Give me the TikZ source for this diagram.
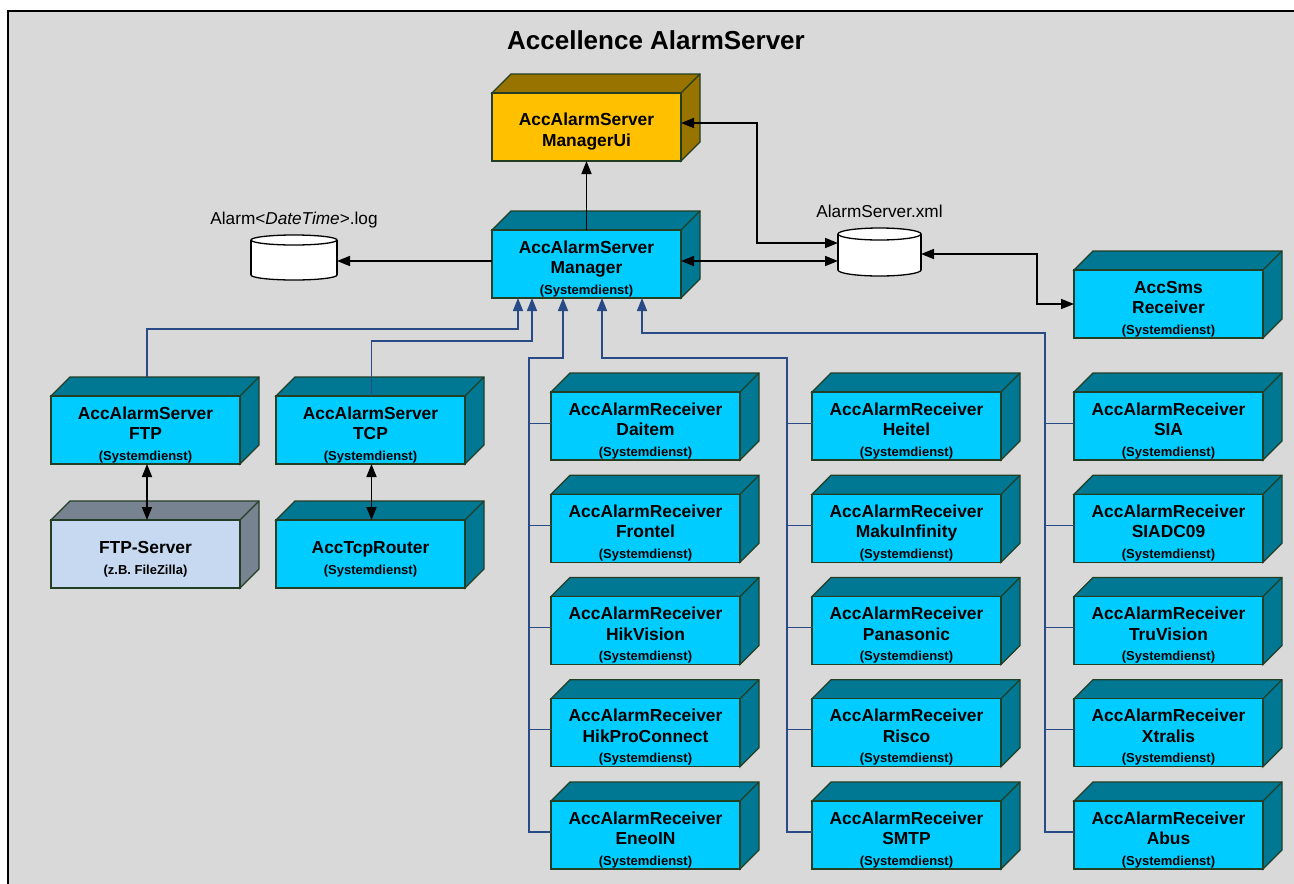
\documentclass[tikz,border=0pt]{standalone}
\usepackage{fontspec}
\setmainfont{Liberation Sans}
\usetikzlibrary{arrows.meta,calc}
\definecolor{bgframe}{RGB}{217,217,217}
\definecolor{cyanfront}{RGB}{0,204,255}
\definecolor{cyandark}{RGB}{0,120,148}
\definecolor{goldfront}{RGB}{255,192,0}
\definecolor{golddark}{RGB}{153,115,0}
\definecolor{srvfront}{RGB}{198,217,240}
\definecolor{srvdark}{RGB}{120,131,145}
\definecolor{edgegreen}{RGB}{34,62,36}
\definecolor{busblue}{RGB}{40,75,135}
\tikzset{
  boxedge/.style={draw=edgegreen,line width=1.3pt,line join=miter},
  frontbox/.style={draw=edgegreen,line width=1.3pt,minimum width=189pt,minimum height=68pt,inner sep=0pt,outer sep=0pt},
  nm/.style={font=\fontsize{17.4}{20}\selectfont\bfseries,anchor=base,inner sep=0pt},
  subt/.style={font=\fontsize{13}{15}\selectfont\bfseries,anchor=base,inner sep=0pt},
  lbl/.style={font=\fontsize{17.2}{20}\selectfont,anchor=base,inner sep=0pt},
  blk/.style={line width=1.6pt,draw=black,-{Triangle[length=13pt,width=10pt]}},
  blkboth/.style={line width=1.6pt,draw=black,{Triangle[length=13pt,width=10pt]}-{Triangle[length=13pt,width=10pt]}},
  bus/.style={line width=1.6pt,draw=busblue,-{Triangle[length=13pt,width=10pt]}},
  tick/.style={line width=1pt,draw=busblue},
  dbbox/.style={inner sep=0pt,outer sep=0pt},
}
% #1 name, #2 x, #3 y (front top-left, pixels), #4 front fill, #5 dark fill
\newcommand\cubeshape[5]{%
  \filldraw[boxedge,fill=#5] (#2,#3) -- ++(19,-19) -- ++(189,0) -- ++(0,68) -- ++(-19,19) -- ++(0,-68) -- cycle;
  \draw[boxedge] (#2+189,#3) -- ++(19,-19);
  \node[frontbox,fill=#4,anchor=north west] (#1) at (#2,#3) {};
}
% three-line text: name, line1, line2, sub
\newcommand\threelines[4]{%
  \node[nm] (#1-a) at ([yshift=-23pt]#1.north) {#2};
  \node[nm] (#1-b) at ([yshift=-43.5pt]#1.north) {#3};
  \node[subt] (#1-c) at ([yshift=-64pt]#1.north) {#4};
}
% receiver box: name, x, y, second line
\newcommand\receiver[4]{%
  \cubeshape{#1}{#2}{#3}{cyanfront}{cyandark}
  \threelines{#1}{AccAlarmReceiver}{#4}{(Systemdienst)}
}
% cylinder: name, cx, cy, half width, half height, ellipse ry
\newcommand\dbcyl[6]{%
  \node[dbbox,minimum width=2*#4 pt,minimum height=2*#5 pt] (#1) at (#2,#3) {};
  \filldraw[line width=1.3pt,draw=black,fill=white] (#2,#3+#5-#6) ellipse[x radius=#4,y radius=#6];
  \fill[white] (#2-#4,#3-#5+#6) rectangle (#2+#4,#3+#5-#6);
  \draw[line width=1.3pt,black] (#2-#4,#3-#5+#6) -- (#2-#4,#3+#5-#6);
  \draw[line width=1.3pt,black] (#2+#4,#3-#5+#6) -- (#2+#4,#3+#5-#6);
  \filldraw[line width=1.3pt,draw=black,fill=white] (#2,#3-#5+#6) ellipse[x radius=#4,y radius=#6];
}
\begin{document}
\begin{tikzpicture}[x=1pt,y=-1pt]
\useasboundingbox (0,0) rectangle (1294,884);
\clip (0,0) rectangle (1294,884);
\fill[white] (0,0) rectangle (1294,884);
\filldraw[fill=bgframe,draw=black,line width=2pt] (8,11) rectangle (1310,900);

\node[font=\fontsize{26}{30}\selectfont\bfseries,anchor=base,inner sep=0pt] (title) at (656,49) {Accellence AlarmServer};

% Manager UI
\cubeshape{ui}{492}{93}{goldfront}{golddark}
\node[nm] (ui-a) at ([yshift=-32pt]ui.north) {AccAlarmServer};
\node[nm] (ui-b) at ([yshift=-53pt]ui.north) {ManagerUi};

% Manager
\cubeshape{mgr}{492}{230}{cyanfront}{cyandark}
\threelines{mgr}{AccAlarmServer}{Manager}{(Systemdienst)}

% SMS receiver
\cubeshape{sms}{1074}{270}{cyanfront}{cyandark}
\threelines{sms}{AccSms}{Receiver}{(Systemdienst)}

% FTP / TCP
\cubeshape{ftp}{51}{396}{cyanfront}{cyandark}
\threelines{ftp}{AccAlarmServer}{FTP}{(Systemdienst)}
\cubeshape{tcp}{276}{396}{cyanfront}{cyandark}
\threelines{tcp}{AccAlarmServer}{TCP}{(Systemdienst)}

\cubeshape{ftpsrv}{51}{520}{srvfront}{srvdark}
\node[nm] (ftpsrv-a) at ([yshift=-33pt]ftpsrv.north) {FTP-Server};
\node[subt] (ftpsrv-b) at ([yshift=-54.5pt]ftpsrv.north) {(z.B. FileZilla)};
\cubeshape{router}{276}{520}{cyanfront}{cyandark}
\node[nm] (router-a) at ([yshift=-33pt]router.north) {AccTcpRouter};
\node[subt] (router-b) at ([yshift=-54.5pt]router.north) {(Systemdienst)};

% Receivers
\receiver{ca}{551}{392}{Daitem}
\receiver{cb}{551}{494.25}{Frontel}
\receiver{cc}{551}{596.5}{HikVision}
\receiver{cd}{551}{698.75}{HikProConnect}
\receiver{ce}{551}{801}{EneoIN}
\receiver{da}{812}{392}{Heitel}
\receiver{db}{812}{494.25}{MakuInfinity}
\receiver{dc}{812}{596.5}{Panasonic}
\receiver{dd}{812}{698.75}{Risco}
\receiver{de}{812}{801}{SMTP}
\receiver{ea}{1074}{392}{SIA}
\receiver{eb}{1074}{494.25}{SIADC09}
\receiver{ec}{1074}{596.5}{TruVision}
\receiver{ed}{1074}{698.75}{Xtralis}
\receiver{ee}{1074}{801}{Abus}

% Databases
\dbcyl{log}{294}{257.5}{43}{22.5}{5}
\node[lbl] (logl) at ([yshift=11pt]log.north) {Alarm<\textit{DateTime}>.log};
\dbcyl{xml}{879.5}{252}{41.5}{24}{6}
\node[lbl] (xmll) at ([yshift=11pt]xml.north) {AlarmServer.xml};

% Black connectors
\draw[blk] (mgr.north) -- (ui.south);
\draw[blk] ([yshift=3pt]mgr.west) -- ([yshift=3pt]mgr.west -| log.east);
\draw[blkboth] ([yshift=3pt]mgr.east) -- ([yshift=3pt]mgr.east -| xml.west);
\draw[blkboth] ([yshift=4pt]ui.east) -- ++(76,0) |- ([yshift=9pt]xml.west);
\draw[blkboth] ([yshift=-2pt]xml.east) -- ++(116,0) |- (sms.west);
\draw[blkboth] ([xshift=1.5pt]ftp.south) -- ([xshift=1.5pt]ftpsrv.north);
\draw[blkboth] ([xshift=1pt]tcp.south) -- ([xshift=1pt]router.north);

% Blue connectors
\draw[bus] ([shift={(1.5pt,19pt)}]ftp.north) -- ++(0,-48) -| ([xshift=26pt]mgr.south west);
\draw[bus] ([xshift=1pt]tcp.north) -- ++(0,-55) -| ([xshift=40pt]mgr.south west);
\draw[bus] ([yshift=3pt]ce.west) -- ++(-22,0) -- ++(0,-474) -| ([xshift=71pt]mgr.south west);
\draw[bus] ([yshift=3pt]de.west) -- ++(-25,0) -- ++(0,-474) -| ([xshift=110pt]mgr.south west);
\draw[bus] ([yshift=3pt]ee.west) -- ++(-29,0) -- ++(0,-499) -| ([xshift=150pt]mgr.south west);
\foreach \n in {ca,cb,cc,cd} {\draw[tick] ([yshift=3pt]\n.west) -- ++(-22,0);}
\foreach \n in {da,db,dc,dd} {\draw[tick] ([yshift=3pt]\n.west) -- ++(-25,0);}
\foreach \n in {ea,eb,ec,ed} {\draw[tick] ([yshift=3pt]\n.west) -- ++(-29,0);}
\end{tikzpicture}
\end{document}
